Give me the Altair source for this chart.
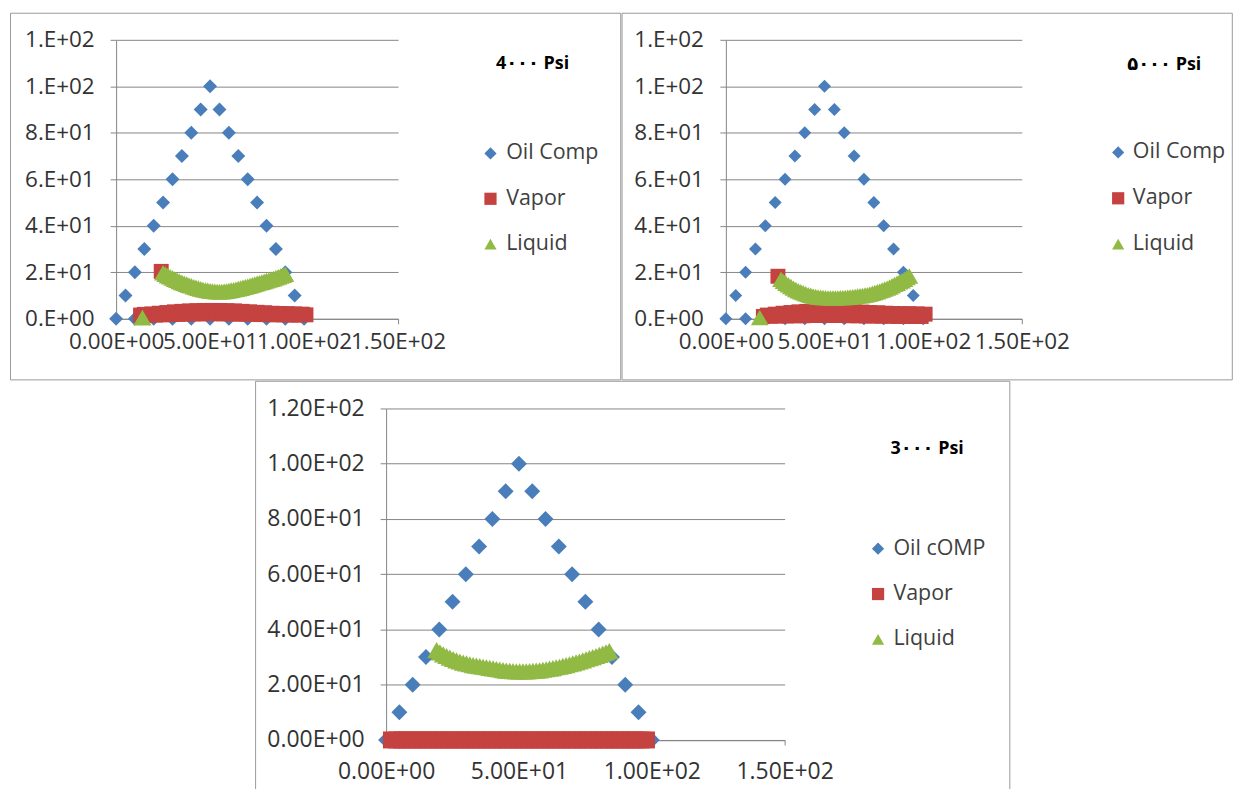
import altair as alt
import pandas as pd

# ---------------- data ----------------
SERIES_4000 = ["Oil Comp", "Vapor", "Liquid"]
SERIES_5000 = ["Oil Comp", "Vapor", "Liquid"]
SERIES_3000 = ["Oil cOMP", "Vapor", "Liquid"]
TITLES = ["4\u06f0\u06f0\u06f0 Psi", "\u06f5\u06f0\u06f0\u06f0 Psi", "3\u06f0\u06f0\u06f0 Psi"]
COLORS = ["#4A7EBB", "#C4423F", "#91BA45"]
SHAPES = ["diamond", "square", "triangle-up"]

X_TICKS = [0, 50, 100, 150]
Y_TICKS = [0, 20, 40, 60, 80, 100, 120]

# Oil composition (same in the three panels)
OIL_X = [0, 5, 10, 15, 20, 25, 30, 35, 40, 45, 50, 55, 60, 65, 70, 75, 80, 85, 90, 95, 100,
         10, 20, 30, 40, 50, 60, 70, 80, 90]
OIL_Y = [0, 10, 20, 30, 40, 50, 60, 70, 80, 90, 100, 90, 80, 70, 60, 50, 40, 30, 20, 10, 0,
         0, 0, 0, 0, 0, 0, 0, 0, 0]

# 4000 psi
VAPOR_4000 = [(24, 20.4),
              (13, 1.6), (15, 1.9), (17, 1.5), (19, 2.1), (21, 1.6), (23, 2.4), (25, 1.7),
              (27, 2.7), (29, 1.8), (31, 3.0), (33, 1.9), (35, 3.2), (37, 2.0), (39, 3.4),
              (41, 2.1), (43, 3.5), (45, 2.1), (47, 3.6), (49, 2.2), (51, 3.6), (53, 2.2),
              (55, 3.6), (57, 2.1), (59, 3.5), (61, 2.1), (63, 3.4), (65, 2.0), (67, 3.2),
              (69, 2.0), (71, 3.0), (73, 1.9), (75, 2.8), (77, 1.8), (79, 2.6), (81, 1.8),
              (83, 2.4), (85, 1.7), (87, 2.3), (89, 1.7), (91, 2.2), (93, 1.6), (95, 2.1),
              (97, 1.6), (99, 2.0), (101, 1.7)]
LIQUID_4000 = [(14, 0.5),
               (25.0, 19.8), (26.25, 19.2), (27.5, 18.6), (28.75, 18.1), (30.0, 17.6),
               (31.25, 17.1), (32.5, 16.6), (33.75, 16.1), (35.0, 15.7), (36.25, 15.3),
               (37.5, 14.9), (38.75, 14.5), (40.0, 14.2), (41.25, 13.8), (42.5, 13.5),
               (43.75, 13.2), (45.0, 12.9), (46.25, 12.6), (47.5, 12.4), (48.75, 12.2),
               (50.0, 12.0), (51.25, 11.9), (52.5, 11.8), (53.75, 11.7), (55.0, 11.7),
               (56.25, 11.7), (57.5, 11.8), (58.75, 11.9), (60.0, 12.1), (61.25, 12.3),
               (62.5, 12.5), (63.75, 12.7), (65.0, 13.0), (66.25, 13.2), (67.5, 13.5),
               (68.75, 13.7), (70.0, 14.0), (71.25, 14.3), (72.5, 14.6), (73.75, 14.9),
               (75.0, 15.2), (76.25, 15.5), (77.5, 15.8), (78.75, 16.1), (80.0, 16.4),
               (81.25, 16.7), (82.5, 17.0), (83.75, 17.3), (85.0, 17.7), (86.25, 18.0),
               (87.5, 18.4), (88.75, 18.8), (90.0, 19.2)]

# 5000 psi
VAPOR_5000 = [(26.4, 18.3),
              (19, 1.0), (21, 1.6), (23, 1.1), (25, 2.0), (27, 1.2), (29, 2.4), (31, 1.2),
              (33, 2.7), (35, 1.3), (37, 3.0), (39, 1.3), (41, 3.2), (43, 1.4), (45, 3.4),
              (47, 1.4), (49, 3.5), (51, 1.4), (53, 3.5), (55, 1.4), (57, 3.4), (59, 1.4),
              (61, 3.3), (63, 1.3), (65, 3.1), (67, 1.3), (69, 2.9), (71, 1.2), (73, 2.7),
              (75, 1.2), (77, 2.6), (79, 1.1), (81, 2.4), (83, 1.1), (85, 2.3), (87, 1.0),
              (89, 2.2), (91, 1.0), (93, 2.2), (95, 1.0), (97, 2.1), (99, 1.0), (101, 2.0)]
LIQUID_5000 = [(17.2, 0.5),
               (28.0, 17.0), (29.25, 16.1), (30.5, 15.3), (31.75, 14.6), (33.0, 13.9),
               (34.25, 13.2), (35.5, 12.6), (36.75, 12.1), (38.0, 11.6), (39.25, 11.2),
               (40.5, 10.8), (41.75, 10.4), (43.0, 10.1), (44.25, 9.8), (45.5, 9.6),
               (46.75, 9.4), (48.0, 9.3), (49.25, 9.2), (50.5, 9.1), (51.75, 9.0),
               (53.0, 9.0), (54.25, 9.0), (55.5, 9.0), (56.75, 9.0), (58.0, 9.1),
               (59.25, 9.1), (60.5, 9.2), (61.75, 9.3), (63.0, 9.4), (64.25, 9.5),
               (65.5, 9.6), (66.75, 9.8), (68.0, 9.9), (69.25, 10.0), (70.5, 10.2),
               (71.75, 10.4), (73.0, 10.7), (74.25, 11.0), (75.5, 11.3), (76.75, 11.6),
               (78.0, 12.0), (79.25, 12.4), (80.5, 12.8), (81.75, 13.2), (83.0, 13.7),
               (84.25, 14.2), (85.5, 14.8), (86.75, 15.3), (88.0, 15.9), (89.25, 16.4),
               (90.5, 17.0), (91.75, 17.7), (93.0, 18.4)]

# 3000 psi
VAPOR_3000 = [(2, 0), (4, 0), (6, 0), (8, 0), (10, 0), (12, 0), (14, 0), (16, 0), (18, 0),
              (20, 0), (22, 0), (24, 0), (26, 0), (28, 0), (30, 0), (32, 0), (34, 0), (36, 0),
              (38, 0), (40, 0), (42, 0), (44, 0), (46, 0), (48, 0), (50, 0), (52, 0), (54, 0),
              (56, 0), (58, 0), (60, 0), (62, 0), (64, 0), (66, 0), (68, 0), (70, 0), (72, 0),
              (74, 0), (76, 0), (78, 0), (80, 0), (82, 0), (84, 0), (86, 0), (88, 0), (90, 0),
              (92, 0), (94, 0), (96, 0), (98, 0)]
LIQUID_3000 = [(19.0, 32.5), (20.25, 31.7), (21.5, 31.0), (22.75, 30.4), (24.0, 29.8),
               (25.25, 29.3), (26.5, 28.8), (27.75, 28.4), (29.0, 28.0), (30.25, 27.7),
               (31.5, 27.4), (32.75, 27.1), (34.0, 26.9), (35.25, 26.7), (36.5, 26.5),
               (37.75, 26.3), (39.0, 26.1), (40.25, 25.9), (41.5, 25.7), (42.75, 25.5),
               (44.0, 25.3), (45.25, 25.1), (46.5, 25.0), (47.75, 24.9), (49.0, 24.8),
               (50.25, 24.8), (51.5, 24.8), (52.75, 24.8), (54.0, 24.9), (55.25, 25.0),
               (56.5, 25.1), (57.75, 25.2), (59.0, 25.4), (60.25, 25.6), (61.5, 25.8),
               (62.75, 26.0), (64.0, 26.3), (65.25, 26.5), (66.5, 26.8), (67.75, 27.1),
               (69.0, 27.4), (70.25, 27.7), (71.5, 28.1), (72.75, 28.4), (74.0, 28.8),
               (75.25, 29.2), (76.5, 29.6), (77.75, 30.0), (79.0, 30.4), (80.25, 30.8),
               (81.5, 31.3), (82.75, 31.7), (84.0, 32.2)]

FONT = "Open Sans"
GRAY = "#868686"
FRAME = "#9a9a9a"


def panel(series, oil, vapor, liquid, title, g):
    legend = alt.Legend(title=None, orient="none", legendX=g["lx"], legendY=g["ly"],
                        padding=0, labelFont=FONT, labelFontSize=g["lfs"],
                        labelColor="#404040", labelOffset=g["loff"], rowPadding=g["rp"],
                        symbolSize=150, symbolStrokeWidth=0)
    color = alt.Color("series:N", scale=alt.Scale(domain=series, range=COLORS), legend=legend)
    shape = alt.Shape("series:N", scale=alt.Scale(domain=series, range=SHAPES), legend=legend)
    xaxis = alt.Axis(values=X_TICKS, title=None, grid=False,
                     labelExpr="replace(format(datum.value, '.2e'), 'e+', 'E+0')",
                     labelFont=FONT, labelFontSize=g["afs"], labelColor="#333333",
                     labelOverlap=False, labelFlush=False, labelPadding=g["xpad"],
                     domainColor=GRAY, tickColor=GRAY, tickSize=5)
    yaxis = alt.Axis(values=Y_TICKS, title=None, grid=True, gridColor=GRAY,
                     labelExpr=g["yexpr"],
                     labelFont=FONT, labelFontSize=g["afs"], labelColor="#333333",
                     labelOverlap=False, labelPadding=g["ypad"],
                     domainColor=GRAY, tickColor=GRAY, tickSize=6)
    xenc = alt.X("x:Q", scale=alt.Scale(domain=[0, 150], nice=False, zero=False), axis=xaxis)
    yenc = alt.Y("y:Q", scale=alt.Scale(domain=[0, 120], nice=False), axis=yaxis)

    one = pd.DataFrame({"k": [0]})
    layers = []
    fr = g["frame"]
    if g.get("open_bottom"):
        layers.append(alt.Chart(one).mark_rule(color=FRAME, strokeWidth=1).encode(
            x=alt.value(fr[0]), y=alt.value(fr[2]), y2=alt.value(fr[3])))
        layers.append(alt.Chart(one).mark_rule(color=FRAME, strokeWidth=1).encode(
            x=alt.value(fr[1]), y=alt.value(fr[2]), y2=alt.value(fr[3])))
        layers.append(alt.Chart(one).mark_rule(color=FRAME, strokeWidth=1).encode(
            x=alt.value(fr[0]), x2=alt.value(fr[1]), y=alt.value(fr[2])))
    else:
        layers.append(alt.Chart(one).mark_rect(fill="#ffffff", fillOpacity=0, stroke=FRAME,
                                               strokeWidth=1).encode(
            x=alt.value(fr[0]), x2=alt.value(fr[1]), y=alt.value(fr[2]), y2=alt.value(fr[3])))

    for name, pts, size in zip(series, [oil, vapor, liquid], g["sizes"]):
        df = pd.DataFrame({"x": [p[0] for p in pts], "y": [p[1] for p in pts]})
        df["series"] = name
        layers.append(alt.Chart(df).mark_point(filled=True, opacity=1, size=size,
                                               strokeWidth=0).encode(
            x=xenc, y=yenc, color=color, shape=shape))

    layers.append(alt.Chart(one).mark_text(font="Open Sans, DejaVu Sans", fontWeight="bold",
                                           fontSize=18, color="#000000", align="center",
                                           baseline="middle").encode(
        x=alt.value(g["tx"]), y=alt.value(g["ty"]), text=alt.value(title)))

    return alt.layer(*layers).properties(width=g["w"], height=g["h"])


OIL = list(zip(OIL_X, OIL_Y))

g1 = dict(w=283, h=280, frame=(-106, 506.5, -26.7, 341.3), tx=418, ty=24,
          lx=365, ly=103.3, loff=5, rp=22.5, lfs=21.5, afs=22.5, xpad=7, ypad=16,
          yexpr="replace(format(datum.value, '.0e'), 'e+', '.E+0')",
          sizes=[196, 225, 330])
g2 = dict(w=297, h=280, frame=(-104.2, 508.3, -26.7, 341.3), tx=440, ty=25,
          lx=383, ly=102.3, loff=4, rp=23, lfs=21.5, afs=22.5, xpad=7, ypad=16.5,
          yexpr="replace(format(datum.value, '.0e'), 'e+', '.E+0')",
          sizes=[169, 225, 320])
g3 = dict(w=400, h=332.7, frame=(-131, 626, -27.3, 382), tx=543, ty=41,
          lx=483, ly=130, loff=4.7, rp=22.5, lfs=21.5, afs=23, xpad=16, ypad=16,
          yexpr="replace(format(datum.value, '.2e'), 'e+', 'E+0')",
          sizes=[256, 290, 350], open_bottom=True)

c1 = panel(SERIES_4000, OIL, VAPOR_4000, LIQUID_4000, TITLES[0], g1)
c2 = panel(SERIES_5000, OIL, VAPOR_5000, LIQUID_5000, TITLES[1], g2)
c3 = panel(SERIES_3000, OIL, VAPOR_3000, LIQUID_3000, TITLES[2], g3)

# empty cell that pushes the lower panel to the right
spacer = alt.Chart(pd.DataFrame({"k": [0]})).mark_rule(opacity=0).encode(
    x=alt.value(0), y=alt.value(0), y2=alt.value(1)).properties(width=139, height=1)

top = alt.hconcat(c1, c2, spacing=0).resolve_scale(
    x="independent", y="independent", color="independent", shape="independent")
bottom = alt.hconcat(spacer, c3, spacing=0).resolve_scale(
    x="independent", y="independent", color="independent", shape="independent")
chart = alt.vconcat(top, bottom, spacing=0).resolve_scale(
    x="independent", y="independent", color="independent", shape="independent"
).properties(
    padding={"left": 1.5, "top": 2.5, "right": 0, "bottom": 0},
    background="#ffffff",
).configure_view(strokeWidth=0)

chart.save("out.html", embed_options={"renderer": "svg", "actions": False})
